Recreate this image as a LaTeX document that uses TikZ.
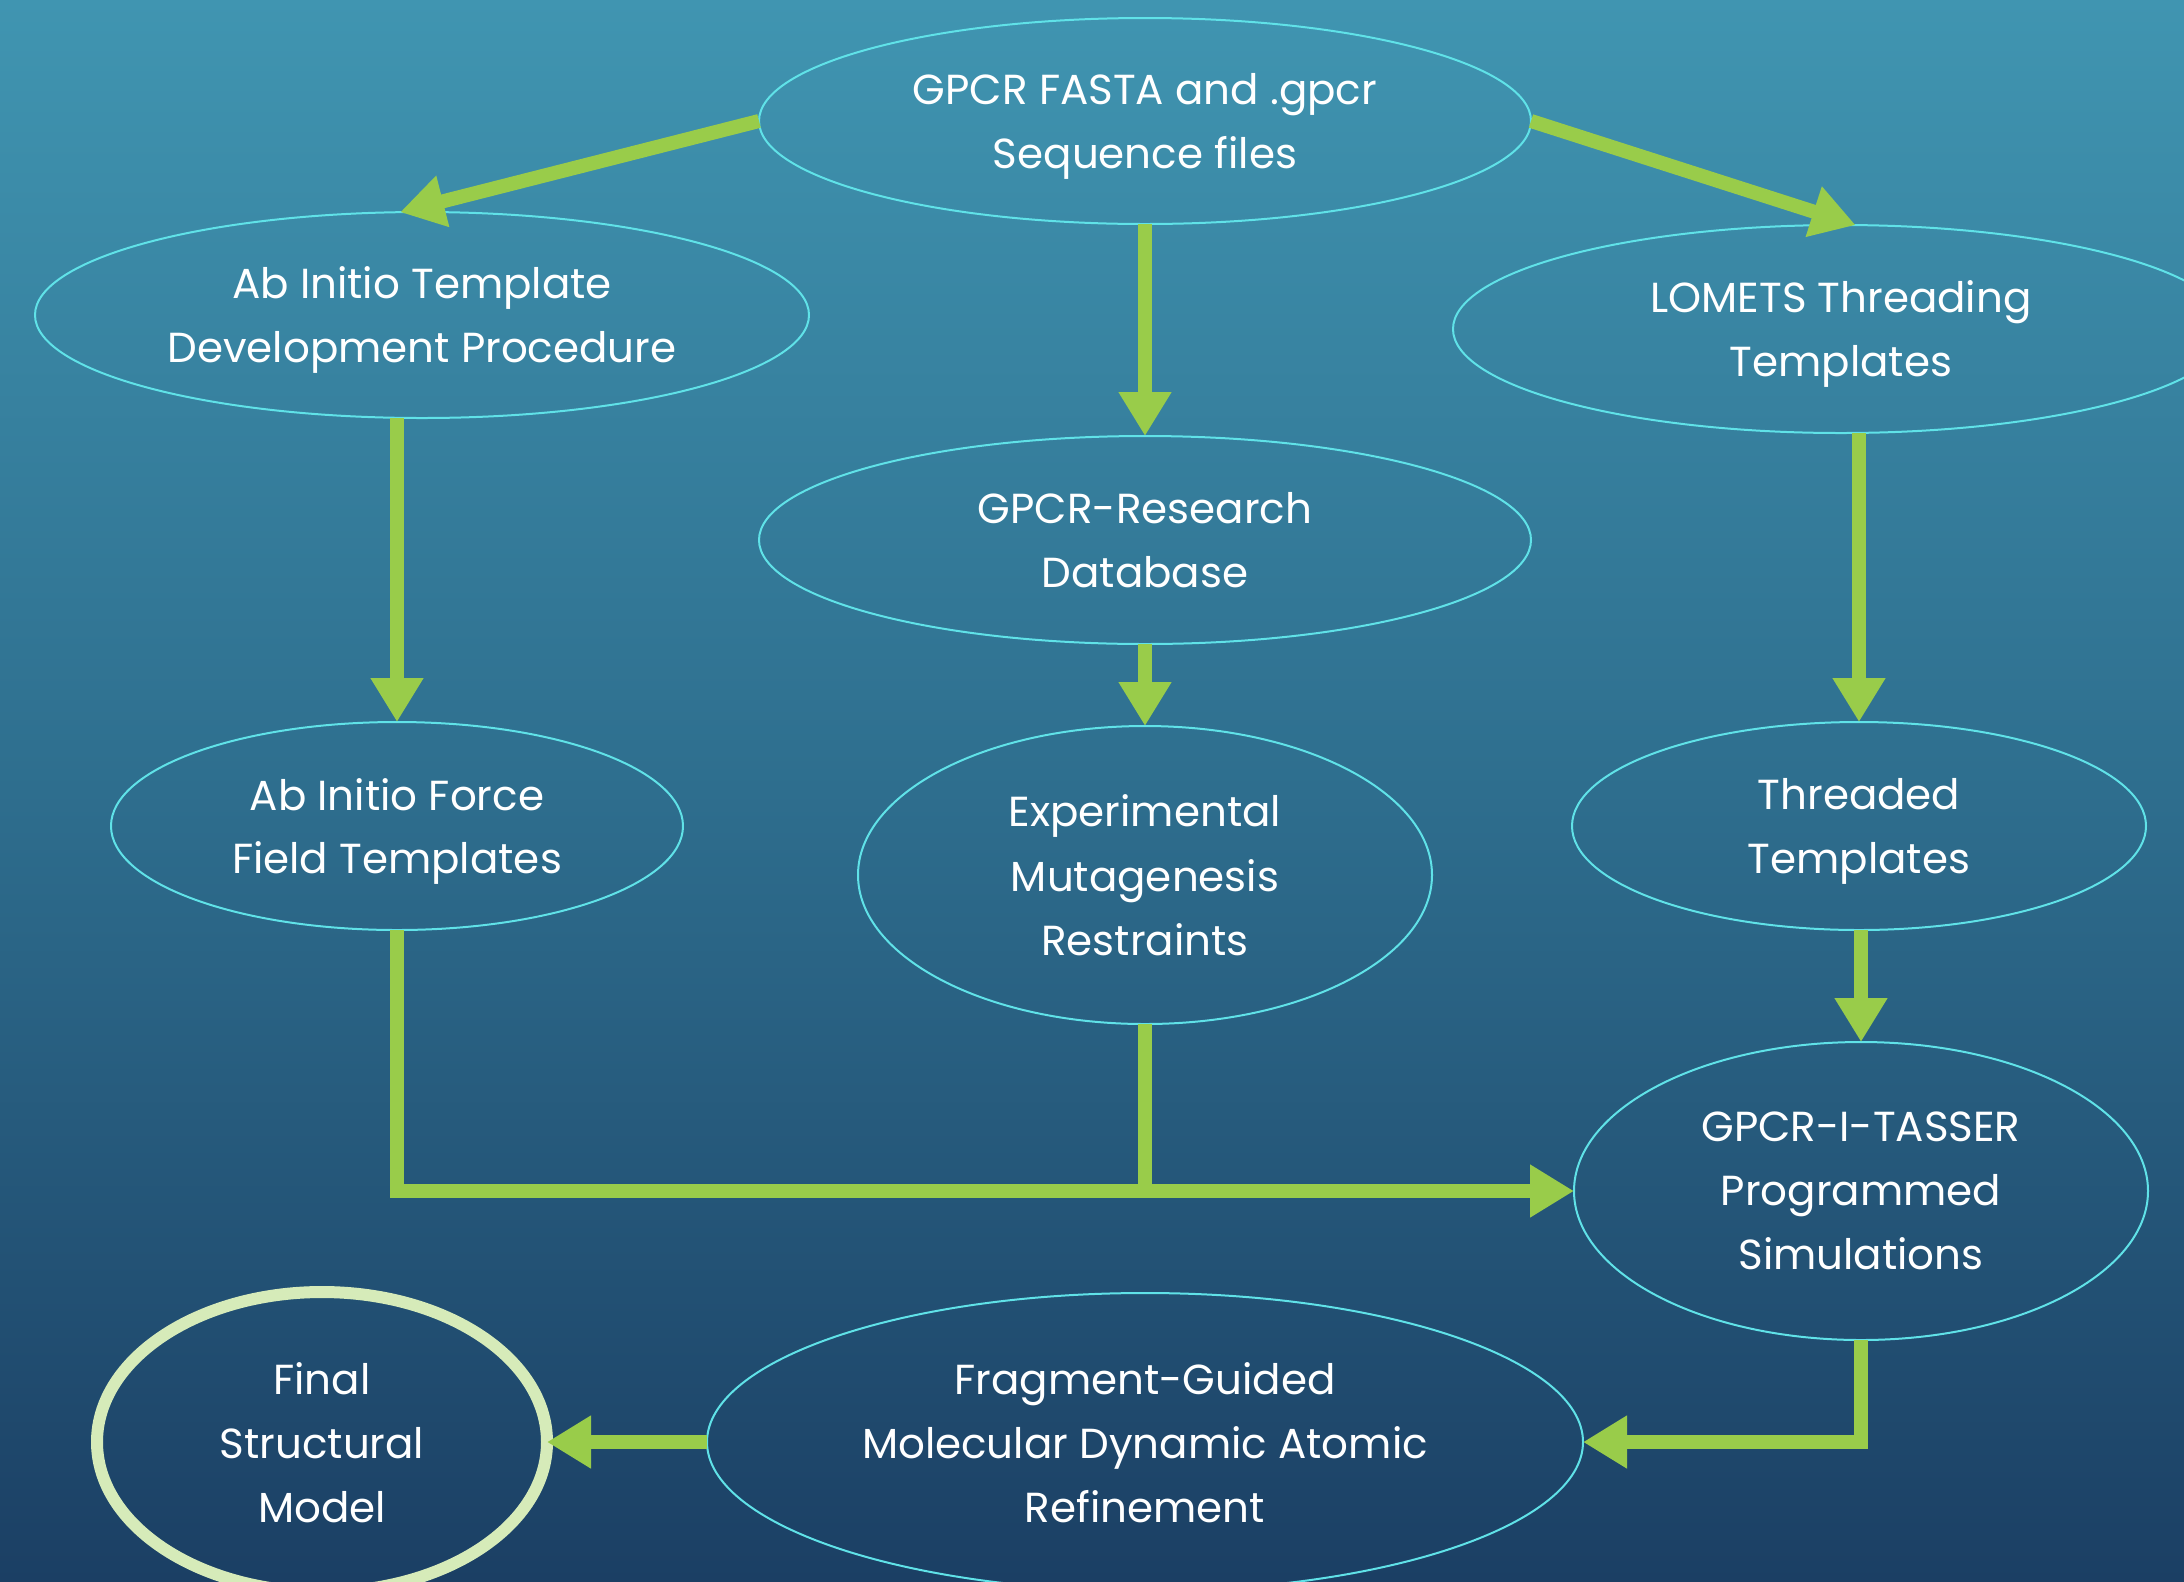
\documentclass[tikz,border=0pt]{standalone}
\usepackage{fontspec}
\setmainfont{Poppins}
\usetikzlibrary{shapes.geometric,arrows.meta,calc}
\definecolor{bgtop}{RGB}{64,149,177}
\definecolor{bgmid}{RGB}{46,110,142}
\definecolor{bgbot}{RGB}{27,63,100}
\definecolor{rim}{RGB}{96,226,232}
\definecolor{flow}{RGB}{153,204,74}
\definecolor{finalrim}{RGB}{214,235,185}
\tikzset{
  stage/.style={ellipse, draw=rim, line width=1pt, inner sep=0pt, outer sep=0pt,
    text=white, align=center, text depth=0pt, font=\fontsize{21}{32}\selectfont},
  flowline/.style={draw=flow, line width=7pt},
  flowarrow/.style={flowline, -{Triangle[width=25pt,length=22pt]}},
}
\begin{document}
\begin{tikzpicture}[x=0.5pt,y=-0.5pt]
  \clip (0,0) rectangle (2184,1581);
  \useasboundingbox (0,0) rectangle (2184,1581);
  \shade[top color=bgtop, bottom color=bgbot, middle color=bgmid] (0,0) rectangle (2184,1581);

  % process stages (sizes are full diameters)
  \node[stage, minimum width=386pt, minimum height=103pt] (fasta) at (1145,121)
    {GPCR FASTA and .gpcr\\Sequence files};
  \node[stage, minimum width=387pt, minimum height=103pt] (abt) at (422,315)
    {Ab Initio Template\\Development Procedure};
  \node[stage, minimum width=388pt, minimum height=104pt] (lom) at (1841,329)
    {LOMETS Threading\\Templates};
  \node[stage, minimum width=386pt, minimum height=104pt] (res) at (1145,540)
    {GPCR-Research\\Database};
  \node[stage, minimum width=286pt, minimum height=104pt] (force) at (397,826)
    {Ab Initio Force\\Field Templates};
  \node[stage, minimum width=287pt, minimum height=149pt] (exp) at (1145,875)
    {Experimental\\Mutagenesis\\Restraints};
  \node[stage, minimum width=287pt, minimum height=104pt] (thr) at (1859,826)
    {Threaded\\Templates};
  \node[stage, minimum width=287pt, minimum height=149pt] (tas) at (1861,1191)
    {GPCR-I-TASSER\\Programmed\\Simulations};
  \node[stage, minimum width=438pt, minimum height=149pt] (frag) at (1145,1442)
    {Fragment-Guided\\Molecular Dynamic Atomic\\Refinement};
  \node[stage, draw=finalrim, line width=6pt, minimum width=225pt, minimum height=150pt]
    (final) at (322,1442) {Final\\Structural\\Model};

  % connectors
  \draw[flowarrow] (fasta.west) -- (abt.102);
  \draw[flowarrow] (fasta.east) -- (lom.82);
  \draw[flowarrow] (fasta.south) -- (res.north);
  \draw[flowarrow] (abt.south -| force.north) -- (force.north);
  \draw[flowarrow] (lom.south -| thr.north) -- (thr.north);
  \draw[flowarrow] (res.south) -- (exp.north);
  \draw[flowarrow] (thr.south -| tas.north) -- (tas.north);
  \coordinate (join) at (exp.south |- tas.west);
  \draw[flowarrow] (force.south) |- (tas.west);
  \draw[flowline] (exp.south) -- (join);
  \draw[flowarrow] (tas.south) |- (frag.east);
  \draw[flowarrow] (frag.west) -- (final.east);
\end{tikzpicture}
\end{document}
